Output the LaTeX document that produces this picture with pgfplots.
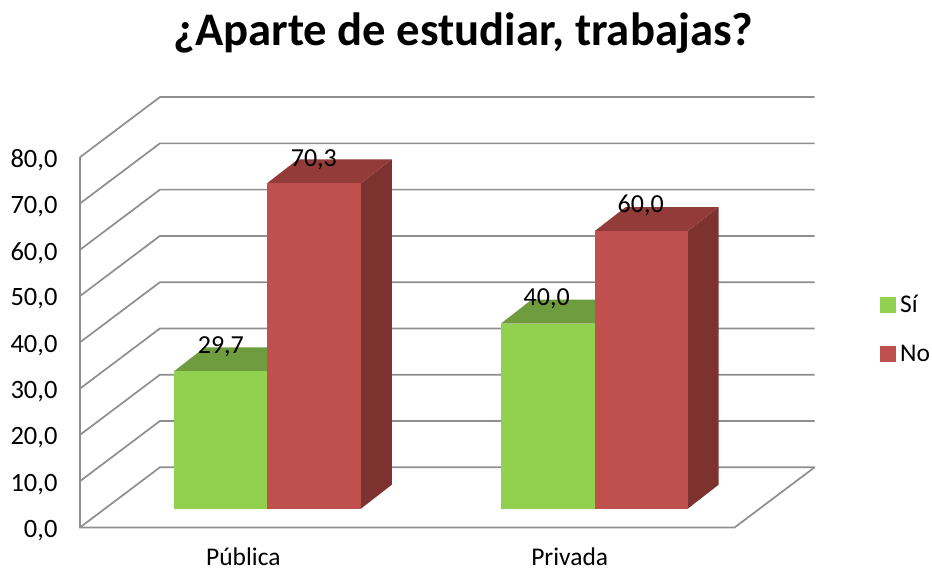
\documentclass[border=0pt]{standalone}
\usepackage{fontspec}
\setmainfont{Carlito}
\usepackage{pgfplots}
\pgfplotsset{compat=1.18}
\definecolor{gridc}{HTML}{8E8E8E}
\definecolor{si}{HTML}{92D050}
\definecolor{sitop}{HTML}{6F9C3E}
\definecolor{no}{HTML}{C0504D}
\definecolor{notop}{HTML}{933B39}
\definecolor{noside}{HTML}{7D3230}
\pgfplotsset{
  frame/.style={x=1pt, y=4.63pt, xmin=80, xmax=815, ymin=0, clip=false},
  wall/.style={gridc, line width=1.7pt, no markers, forget plot},
}
\newcommand{\valfont}{\fontsize{26}{26}\selectfont}
\begin{document}
\begin{tikzpicture}
  \begin{axis}[
      frame, ymax=93,
      axis line style={draw=none},
      major tick length=0pt,
      ytick={0,10,20,30,40,50,60,70,80},
      xtick={243.5,570},
      xticklabels={Pública,Privada},
      /pgf/number format/.cd, fixed, fixed zerofill, precision=1, use comma, assume math mode=true,
      /pgfplots/.cd,
      yticklabel style={font=\fontsize{26.5}{26.5}\selectfont, anchor=east, xshift=-19pt, yshift=-3pt},
      xticklabel style={font=\fontsize{25.5}{25.5}\selectfont, anchor=center, inner sep=0pt, yshift=-29pt},
      title={¿Aparte de estudiar, trabajas?},
      title style={font=\fontsize{46.7}{46.7}\selectfont\bfseries, at={(axis description cs:0.522,1.135)}, anchor=center},
      legend style={at={(axis description cs:1.0884,0.461)}, anchor=west, draw=none, fill=none,
                    font=\fontsize{25.5}{25.5}\selectfont, inner sep=0pt, row sep=27pt},
      legend image code/.code={\fill[#1] (0pt,-7.5pt) rectangle (15pt,7.5pt); \path (18pt,0pt);},
      legend cell align=left,
    ]
    % back wall and left wall grid lines
    \addplot[wall] coordinates {(80,0) (160,13) (815,13)};
    \addplot[wall] coordinates {(80,10) (160,23) (815,23)};
    \addplot[wall] coordinates {(80,20) (160,33) (815,33)};
    \addplot[wall] coordinates {(80,30) (160,43) (815,43)};
    \addplot[wall] coordinates {(80,40) (160,53) (815,53)};
    \addplot[wall] coordinates {(80,50) (160,63) (815,63)};
    \addplot[wall] coordinates {(80,60) (160,73) (815,73)};
    \addplot[wall] coordinates {(80,70) (160,83) (815,83)};
    \addplot[wall] coordinates {(80,80) (160,93) (815,93)};
    % floor and axis
    \addplot[wall] coordinates {(80,80) (80,0) (735,0) (815,13)};
    \addlegendimage{si}
    \addlegendentry{Sí}
    \addlegendimage{no}
    \addlegendentry{No}
    \coordinate (sw) at (axis cs:0,-9.64);
    \coordinate (ne) at (axis cs:932,113.98);
  \end{axis}
  \begin{axis}[
      frame, ymax=93, yshift=18.7pt, hide axis,
    ]
    % Publica
    \addplot[fill=sitop, draw=none] coordinates {(174,29.7) (267,29.7) (298,34.9) (205,34.9)} --cycle;
    \addplot[fill=si, draw=none] coordinates {(174,0) (267,0) (267,29.7) (174,29.7)} --cycle;
    \addplot[fill=noside, draw=none] coordinates {(361,0) (392,5.2) (392,75.5) (361,70.3)} --cycle;
    \addplot[fill=notop, draw=none] coordinates {(267,70.3) (361,70.3) (392,75.5) (298,75.5)} --cycle;
    \addplot[fill=no, draw=none] coordinates {(267,0) (361,0) (361,70.3) (267,70.3)} --cycle;
    % Privada
    \addplot[fill=sitop, draw=none] coordinates {(501,40) (595,40) (626,45.2) (532,45.2)} --cycle;
    \addplot[fill=si, draw=none] coordinates {(501,0) (595,0) (595,40) (501,40)} --cycle;
    \addplot[fill=noside, draw=none] coordinates {(688,0) (719,5.2) (719,65.2) (688,60)} --cycle;
    \addplot[fill=notop, draw=none] coordinates {(595,60) (688,60) (719,65.2) (626,65.2)} --cycle;
    \addplot[fill=no, draw=none] coordinates {(595,0) (688,0) (688,60) (595,60)} --cycle;
    % value labels
    \node[font=\valfont] at (axis cs:221,35.0) {29,7};
    \node[font=\valfont] at (axis cs:314,75.4) {70,3};
    \node[font=\valfont] at (axis cs:547,45.4) {40,0};
    \node[font=\valfont] at (axis cs:641,65.5) {60,0};
  \end{axis}
  \path (sw) rectangle (ne);
\end{tikzpicture}
\end{document}
